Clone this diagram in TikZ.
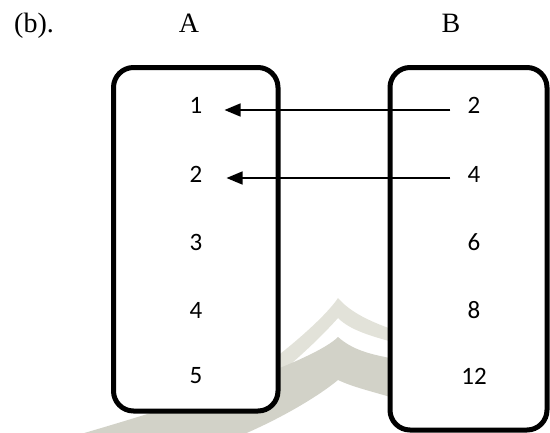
\documentclass[tikz,border=0pt]{standalone}
\usepackage{fontspec}
\setmainfont{Liberation Serif}
\newfontfamily\numfont{Carlito}
\usetikzlibrary{arrows.meta}
\definecolor{wmlight}{RGB}{226,226,217}
\definecolor{wmdark}{RGB}{210,210,200}
\begin{document}
\begin{tikzpicture}[x=1pt,y=-1pt,
  setbox/.style={draw=black, line width=5pt, rounded corners=20pt, fill=white, inner sep=0pt},
  num/.style={font=\numfont\fontsize{25}{25}\selectfont, inner sep=0pt},
  lab/.style={font=\fontsize{28}{28}\selectfont, inner sep=0pt, anchor=base},
  maparrow/.style={line width=1.5pt, -{Triangle[length=16pt,width=13pt]}}]
\useasboundingbox (0,0) rectangle (550,432);
% faint watermark: two chevrons
\fill[wmlight] (150,440) .. controls (265,375) and (325,318) .. (338,298)
  .. controls (350,312) and (370,322) .. (400,332) -- (400,344)
  .. controls (370,336) and (350,330) .. (338,318)
  .. controls (322,336) and (270,390) .. (185,440) -- cycle;
\fill[wmdark] (60,440) .. controls (200,400) and (315,360) .. (338,337)
  .. controls (355,352) and (375,355) .. (400,360) -- (400,400)
  .. controls (375,392) and (355,388) .. (338,380)
  .. controls (320,395) and (280,420) .. (230,440) -- cycle;
% sets
\node[setbox, minimum width=164.5pt, minimum height=343.5pt] (SA) at (195.75,239.25) {};
\node[setbox, minimum width=157pt, minimum height=362.5pt] (SB) at (468.5,248.75) {};
% labels
\node[lab, anchor=base west] (lb) at (14,32) {(b).};
\node[lab] (lA) at (189,32) {A};
\node[lab] (lB) at (451,32) {B};
% elements of A
\node[num] (A1) at (196,105) {1};
\node[num] (A2) at (196,174) {2};
\node[num] (A3) at (196,242) {3};
\node[num] (A4) at (196,310) {4};
\node[num] (A5) at (196,376) {5};
% elements of B
\node[num] (B1) at (474,105) {2};
\node[num] (B2) at (474,174) {4};
\node[num] (B3) at (474,242) {6};
\node[num] (B4) at (474,310) {8};
\node[num] (B5) at (474,376) {12};
% arrows
\draw[maparrow] ([xshift=-17pt,yshift=-5pt]B1.west) -- ([xshift=22pt,yshift=-5pt]A1.east);
\draw[maparrow] ([xshift=-17pt,yshift=-4pt]B2.west) -- ([xshift=24pt,yshift=-4pt]A2.east);
\end{tikzpicture}
\end{document}
